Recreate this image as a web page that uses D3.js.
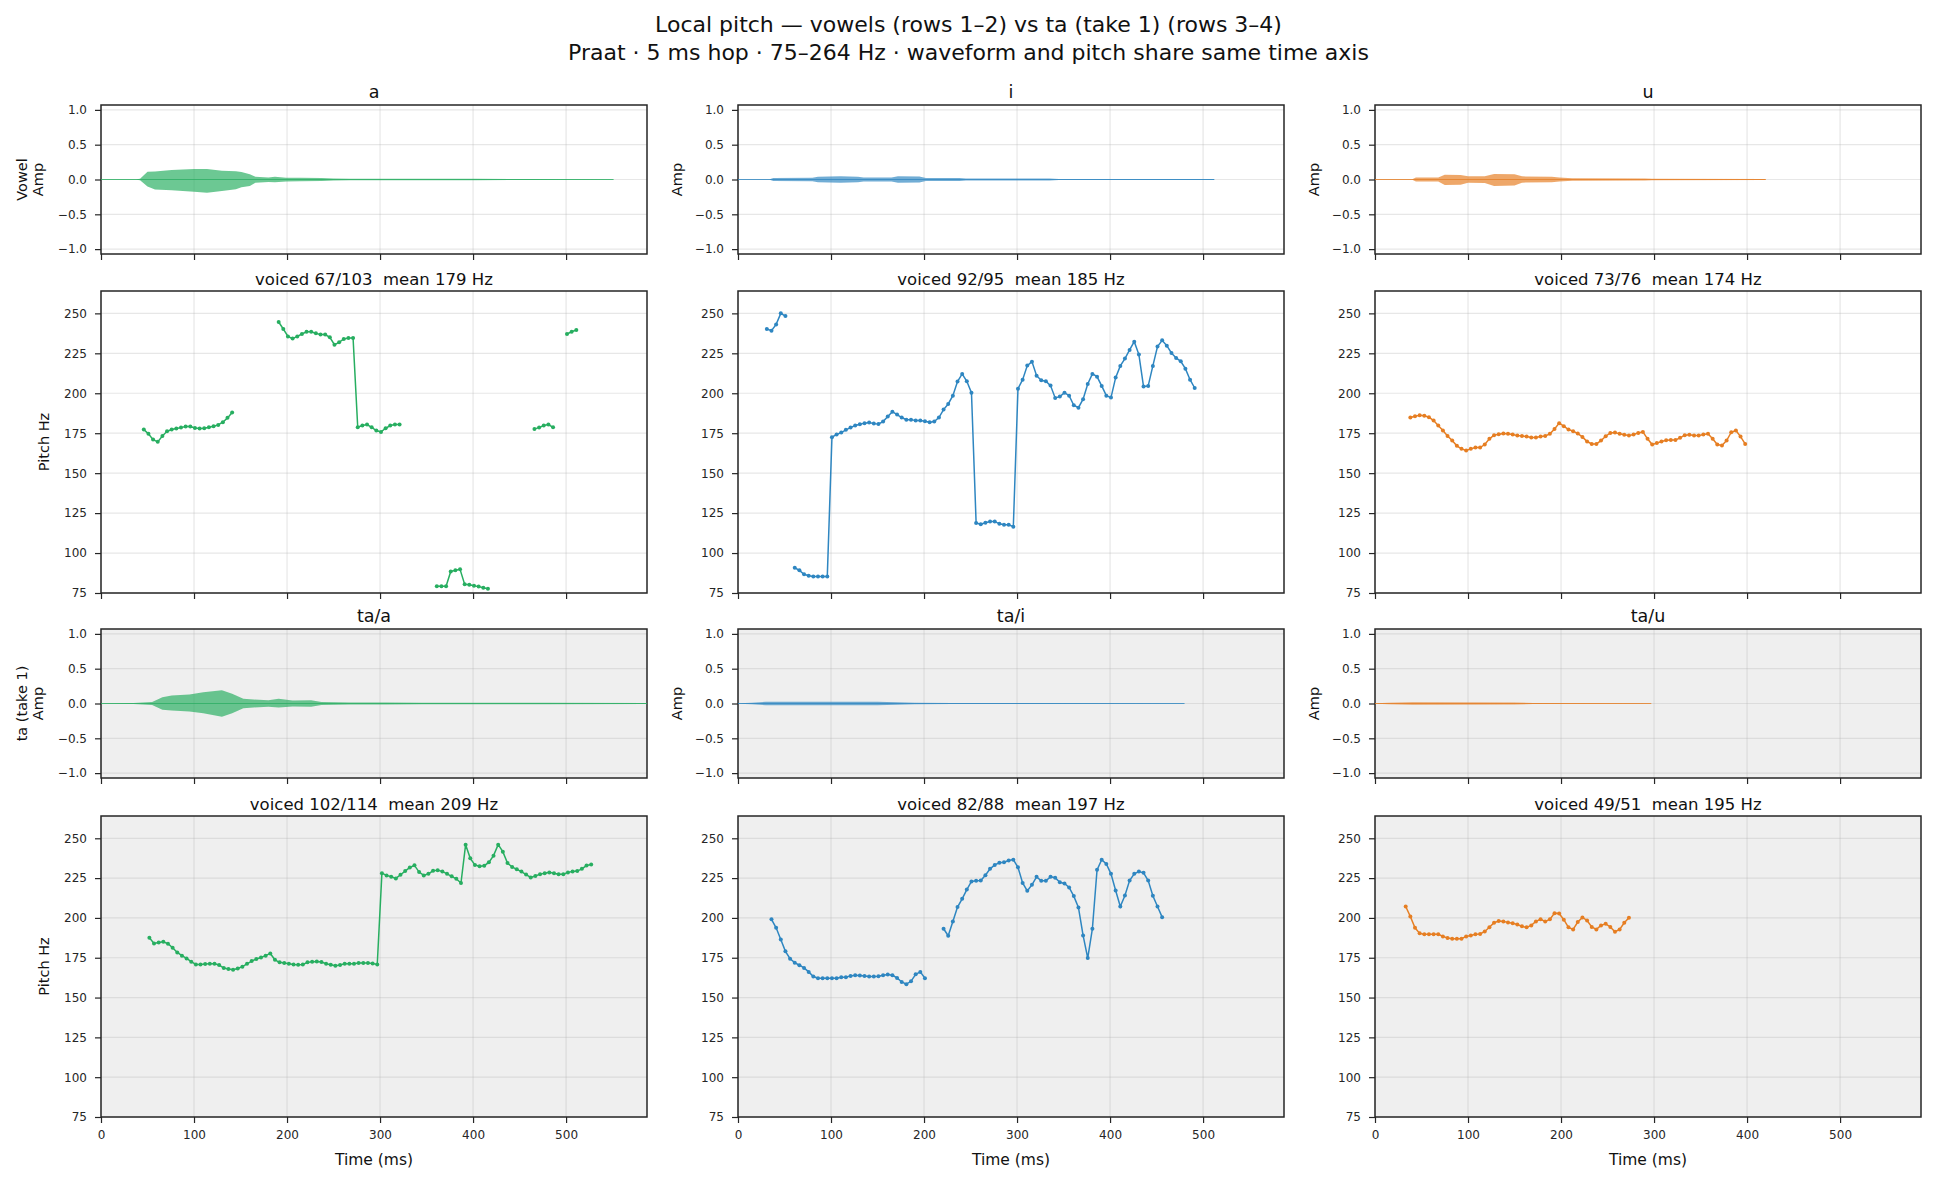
<!DOCTYPE html>
<html lang="en">
<head>
  <meta charset="utf-8">
  <title>Local pitch — vowels vs ta</title>
  <script src="https://d3js.org/d3.v7.min.js"></script>
  <style>
    body { margin: 0; background: #fff; }
    svg { display: block; font-family: "DejaVu Sans", sans-serif; }
    text { white-space: pre; }
  </style>
</head>
<body>
  <svg id="chart"></svg>

  <script>
    // ---- data ----
    const timeTicks = [0, 100, 200, 300, 400, 500];
    const ampTicks = [-1, -0.5, 0, 0.5, 1];
    const pitchTicks = [75, 100, 125, 150, 175, 200, 225, 250];

    const vowelNames = ["a", "i", "u"];
    const taNames = ["ta/a", "ta/i", "ta/u"];
    const vowelColors = ["#27ae60", "#2e86c1", "#e67e22"];

    const vowelVoiced = ["voiced 67/103  mean 179 Hz", "voiced 92/95  mean 185 Hz", "voiced 73/76  mean 174 Hz"];
    const taVoiced = ["voiced 102/114  mean 209 Hz", "voiced 82/88  mean 197 Hz", "voiced 49/51  mean 195 Hz"];

    // waveform envelopes: [time ms, upper amp, lower amp (magnitude)]
    const waveA = [[0,0.003,0.003],[38,0.003,0.003],[42,0.012,0.012],[50,0.11,0.10],[58,0.115,0.145],[76,0.135,0.155],
      [100,0.15,0.175],[114,0.15,0.19],[130,0.125,0.165],[145,0.12,0.14],[151,0.107,0.11],[160,0.075,0.093],
      [166,0.04,0.045],[180,0.03,0.035],[187,0.04,0.04],[199,0.025,0.03],[214,0.025,0.025],[237,0.022,0.022],
      [250,0.014,0.014],[268,0.012,0.012],[307,0.012,0.012],[383,0.01,0.01],[403,0.012,0.012],[460,0.007,0.007],[551,0.004,0.004]];
    const waveI = [[0,0.002,0.002],[34,0.002,0.002],[38,0.02,0.02],[80,0.025,0.025],[86,0.04,0.04],[110,0.047,0.047],
      [129,0.04,0.04],[135,0.028,0.028],[165,0.03,0.03],[172,0.045,0.045],[195,0.042,0.042],[202,0.023,0.023],
      [238,0.02,0.02],[245,0.014,0.014],[335,0.013,0.013],[345,0.008,0.008],[512,0.007,0.007]];
    const waveU = [[0,0.002,0.002],[40,0.002,0.002],[44,0.03,0.03],[68,0.03,0.03],[75,0.07,0.08],[92,0.065,0.075],
      [100,0.045,0.045],[118,0.045,0.05],[128,0.08,0.093],[150,0.075,0.085],[158,0.045,0.045],[190,0.04,0.04],
      [198,0.028,0.028],[212,0.018,0.018],[290,0.016,0.016],[298,0.01,0.01],[420,0.008,0.008]];
    const waveTaA = [[0,0.004,0.004],[35,0.006,0.006],[55,0.02,0.02],[66,0.09,0.09],[76,0.116,0.10],[95,0.13,0.116],
      [110,0.163,0.14],[130,0.19,0.19],[141,0.14,0.14],[153,0.07,0.07],[164,0.056,0.056],[180,0.047,0.047],
      [191,0.07,0.056],[206,0.042,0.042],[226,0.047,0.047],[237,0.023,0.023],[268,0.014,0.014],[307,0.014,0.014],
      [345,0.012,0.012],[400,0.009,0.009],[480,0.012,0.012],[587,0.008,0.008]];
    const waveTaI = [[0,0.004,0.004],[15,0.01,0.01],[30,0.025,0.025],[150,0.025,0.025],[190,0.012,0.012],
      [230,0.006,0.006],[480,0.005,0.005]];
    const waveTaU = [[0,0.004,0.004],[15,0.012,0.012],[40,0.018,0.018],[150,0.016,0.016],[170,0.006,0.006],[297,0.005,0.005]];

    // pitch tracks (Hz), voiced runs: start time (ms) + one value per 5 ms frame
    const pitchA = [
      { t0: 46, f: [177.3,174.6,171.0,169.6,173.3,176.2,177.3,177.9,178.5,179.2,179.2,178.3,177.9,178.1,178.7,179.4,180.2,181.9,184.6,187.9] },
      { t0: 191, f: [244.6,240.2,235.6,234.2,235.6,237.1,238.5,238.5,237.5,236.7,236.7,235.0,230.4,231.9,234.0,234.6,234.6,
                     178.7,179.8,180.4,178.7,176.7,175.8,178.1,179.8,180.4,180.4] },
      { t0: 361, f: [79.2,79.2,79.2,88.5,89.2,89.8,80.4,80.2,79.6,79.0,78.3,77.7] },
      { t0: 466, f: [177.7,178.5,179.8,180.4,178.7] },
      { t0: 501, f: [237.1,238.5,239.6] }
    ];
    const pitchI = [
      { t0: 31, f: [240.2,239.2,243.1,250.0,248.3] },
      { t0: 61, f: [90.8,89.2,86.7,85.8,85.4,85.4,85.4,85.4,
                    172.5,174.2,175.4,177.1,178.5,179.8,180.6,181.3,181.7,181.0,180.8,182.3,185.4,188.5,186.7,184.8,183.5,183.5,
                    182.9,182.9,182.5,181.9,182.3,184.8,189.8,193.3,198.5,207.3,212.1,207.5,200.4,
                    118.8,118.1,119.0,119.8,119.8,118.3,117.7,117.7,116.5,
                    202.9,208.5,217.3,219.8,211.0,208.1,207.5,204.8,197.1,197.9,200.4,198.5,192.5,191.0,196.3,205.8,212.1,210.4,
                    204.6,198.5,197.3,209.8,217.1,221.7,227.1,232.3,224.2,204.2,204.6,217.1,229.2,233.1,229.8,225.2,222.1,220.0,
                    215.4,208.5,203.3] }
    ];
    const pitchU = [
      { t0: 38, f: [184.8,185.6,186.3,186.0,185.0,182.9,179.8,176.7,173.3,170.4,167.1,165.2,164.2,165.2,166.0,166.0,167.9,171.5,
                    173.8,174.4,174.8,174.6,174.2,173.5,173.3,172.9,172.3,172.3,172.9,173.3,174.6,177.7,181.3,179.4,177.3,176.3,
                    174.8,172.7,169.8,168.3,168.3,170.4,173.1,175.2,175.4,174.6,174.0,173.5,174.2,175.2,175.8,171.5,167.9,168.8,
                    169.8,170.6,170.8,170.8,172.1,173.8,174.0,173.5,173.5,174.2,174.6,171.5,167.9,167.3,170.4,175.6,176.7,172.9,168.3] }
    ];
    const pitchTaA = [
      { t0: 52, f: [187.6,184.0,184.6,185.0,183.8,181.3,178.3,176.3,174.6,172.5,170.8,170.8,171.0,171.2,171.2,170.4,168.5,167.9,
                    167.5,168.3,169.4,171.2,172.9,174.2,175.2,176.3,177.7,173.7,172.1,171.7,171.2,170.8,170.6,170.8,172.1,172.5,
                    172.7,172.3,171.2,170.6,170.0,170.4,171.2,171.2,171.2,171.7,171.7,171.7,171.4,170.8,
                    228.1,226.7,225.8,224.8,227.1,229.4,231.7,233.0,228.8,226.7,227.7,229.6,230.0,229.2,227.7,226.1,224.6,221.9,
                    246.0,237.4,233.3,232.4,232.8,234.9,239.1,246.0,241.6,234.5,232.0,230.5,229.1,227.2,225.4,226.3,227.5,228.1,
                    228.6,228.1,227.5,227.5,228.6,229.2,229.4,230.8,232.9,233.5] }
    ];
    const pitchTaI = [
      { t0: 36, f: [199.1,193.8,186.5,179.0,174.4,171.9,170.3,168.6,166.1,163.2,162.1,162.1,162.1,162.1,162.1,162.7,162.7,163.6,
                    164.0,163.8,163.6,163.2,163.2,163.4,164.0,164.4,164.0,162.3,159.8,158.4,160.2,164.6,166.1,162.1] },
      { t0: 221, f: [193.2,188.8,197.8,206.8,212.0,217.8,222.9,223.3,223.5,226.8,230.8,233.3,234.6,235.0,236.0,236.6,231.8,222.0,
                     217.0,220.8,225.8,223.3,223.3,225.8,225.2,222.4,221.6,219.1,213.7,206.6,189.0,174.8,193.2,230.2,236.6,233.9,
                     227.7,217.2,207.2,214.1,223.5,227.7,229.1,228.3,223.5,213.9,207.2,200.5] }
    ];
    const pitchTaU = [
      { t0: 33, f: [207.2,200.9,193.8,190.3,189.7,189.7,189.7,189.7,188.4,187.4,187.0,187.0,187.0,188.4,189.0,189.7,189.9,191.5,
                    194.1,197.0,198.0,197.8,197.2,196.6,195.9,194.7,194.1,195.3,197.8,199.1,197.8,199.1,203.0,202.8,198.9,194.1,
                    192.8,197.4,200.3,198.4,194.3,192.8,195.3,196.3,194.3,191.3,192.8,197.0,200.1] }
    ];

    const vowelWaves = [waveA, waveI, waveU];
    const taWaves = [waveTaA, waveTaI, waveTaU];
    const vowelPitch = [pitchA, pitchI, pitchU];
    const taPitch = [pitchTaA, pitchTaI, pitchTaU];

    // ---- layout ----
    const W = 1935, H = 1186;
    const colX = [101, 738, 1375], colW = 546;
    const rows = [[105, 254], [291, 593], [629, 778], [816, 1117]];
    const ink = "#262626";

    const svg = d3.select("#chart").attr("width", W).attr("height", H);
    svg.append("rect").attr("width", W).attr("height", H).attr("fill", "#fff");

    svg.append("text").attr("x", W / 2 + 1).attr("y", 32).attr("text-anchor", "middle")
      .attr("font-size", 22).attr("fill", "#111")
      .text("Local pitch — vowels (rows 1–2) vs ta (take 1) (rows 3–4)");
    svg.append("text").attr("x", W / 2 + 1).attr("y", 60).attr("text-anchor", "middle")
      .attr("font-size", 22).attr("fill", "#111")
      .text("Praat · 5 ms hop · 75–264 Hz · waveform and pitch share same time axis");

    const x = d3.scaleLinear().domain([0, 587]).range([0, colW]);
    const fmtAmp = d => d3.format(".1f")(d).replace("-", "\u2212");

    function panel(col, row, kind, bg) {
      const [y0, y1] = rows[row];
      const h = y1 - y0;
      const g = svg.append("g").attr("transform", `translate(${colX[col]},${y0})`);
      const y = kind === "wave"
        ? d3.scaleLinear().domain([-1.07, 1.07]).range([h, 0])
        : d3.scaleLinear().domain([75, 264]).range([h, 0]);
      const yt = kind === "wave" ? ampTicks : pitchTicks;

      g.append("rect").attr("width", colW).attr("height", h).attr("fill", bg);

      // grid
      g.append("g").selectAll("line").data(timeTicks).join("line")
        .attr("x1", d => x(d)).attr("x2", d => x(d)).attr("y1", 0).attr("y2", h)
        .attr("stroke", "#b0b0b0").attr("stroke-opacity", 0.3).attr("stroke-width", 1.2);
      g.append("g").selectAll("line").data(yt).join("line")
        .attr("x1", 0).attr("x2", colW).attr("y1", d => y(d)).attr("y2", d => y(d))
        .attr("stroke", "#b0b0b0").attr("stroke-opacity", 0.3).attr("stroke-width", 1.2);

      // axes
      const last = row === 3;
      const xa = g.append("g").attr("transform", `translate(0,${h})`)
        .call(d3.axisBottom(x).tickValues(timeTicks).tickSize(6).tickPadding(7)
          .tickFormat(last ? d3.format("d") : () => ""));
      const ya = g.append("g")
        .call(d3.axisLeft(y).tickValues(yt).tickSize(6).tickPadding(8)
          .tickFormat(kind === "wave" ? fmtAmp : d3.format("d")));
      [xa, ya].forEach(a => {
        a.select(".domain").remove();
        a.selectAll(".tick line").attr("stroke", ink).attr("stroke-width", 1.2);
        a.selectAll(".tick text").attr("fill", ink).attr("font-size", 12)
          .attr("font-family", "DejaVu Sans, sans-serif");
      });

      g.append("rect").attr("width", colW).attr("height", h)
        .attr("fill", "none").attr("stroke", ink).attr("stroke-width", 1.5);

      return { g, y, h };
    }

    function drawWave(p, env, color) {
      const wg = p.g.append("g");
      wg.append("line")
        .attr("x1", x(env[0][0])).attr("x2", x(env[env.length - 1][0]))
        .attr("y1", p.y(0)).attr("y2", p.y(0))
        .attr("stroke", color).attr("stroke-opacity", 0.7).attr("stroke-width", 1);
      const area = d3.area()
        .x(d => x(d[0]))
        .y0(d => p.y(-d[2]))
        .y1(d => p.y(d[1]));
      wg.append("path").attr("d", area(env))
        .attr("fill", color).attr("fill-opacity", 0.68).attr("stroke", "none");
    }

    function drawPitch(p, segs, color) {
      const line = d3.line().x(d => x(d[0])).y(d => p.y(d[1]));
      segs.forEach(s => {
        const pts = s.f.map((v, i) => [s.t0 + 5 * i, v]);
        p.g.append("path").attr("d", line(pts))
          .attr("fill", "none").attr("stroke", color).attr("stroke-width", 1.5);
        p.g.append("g").selectAll("circle").data(pts).join("circle")
          .attr("cx", d => x(d[0])).attr("cy", d => p.y(d[1])).attr("r", 2)
          .attr("fill", color);
      });
    }

    function title(p, text, size, dy) {
      p.g.append("text").attr("x", colW / 2).attr("y", -dy).attr("text-anchor", "middle")
        .attr("font-size", size).attr("fill", "#111").text(text);
    }

    function ylabel(p, lines, offset) {
      const t = p.g.append("text")
        .attr("transform", `translate(${-offset},${p.h / 2}) rotate(-90)`)
        .attr("text-anchor", "middle").attr("font-size", 14.5).attr("fill", "#111");
      lines.forEach((l, i) => {
        t.append("tspan").attr("x", 0)
          .attr("dy", i === 0 ? String(-(lines.length - 1) * 16 / 2 + 5) : "16").text(l);
      });
    }

    for (let c = 0; c < 3; c++) {
      const color = vowelColors[c];

      const w1 = panel(c, 0, "wave", "#ffffff");
      drawWave(w1, vowelWaves[c], color);
      title(w1, vowelNames[c], 17.5, 7);
      ylabel(w1, c === 0 ? ["Vowel", "Amp"] : ["Amp"], c === 0 ? 71 : 61);

      const p1 = panel(c, 1, "pitch", "#ffffff");
      drawPitch(p1, vowelPitch[c], color);
      title(p1, vowelVoiced[c], 16.5, 6);
      if (c === 0) ylabel(p1, ["Pitch Hz"], 57);

      const w2 = panel(c, 2, "wave", "#efefef");
      drawWave(w2, taWaves[c], color);
      title(w2, taNames[c], 17.5, 7);
      ylabel(w2, c === 0 ? ["ta (take 1)", "Amp"] : ["Amp"], c === 0 ? 71 : 61);

      const p2 = panel(c, 3, "pitch", "#efefef");
      drawPitch(p2, taPitch[c], color);
      title(p2, taVoiced[c], 16.5, 6);
      if (c === 0) ylabel(p2, ["Pitch Hz"], 57);

      p2.g.append("text").attr("x", colW / 2).attr("y", p2.h + 48).attr("text-anchor", "middle")
        .attr("font-size", 15.5).attr("fill", "#111").text("Time (ms)");
    }
  </script>
</body>
</html>
